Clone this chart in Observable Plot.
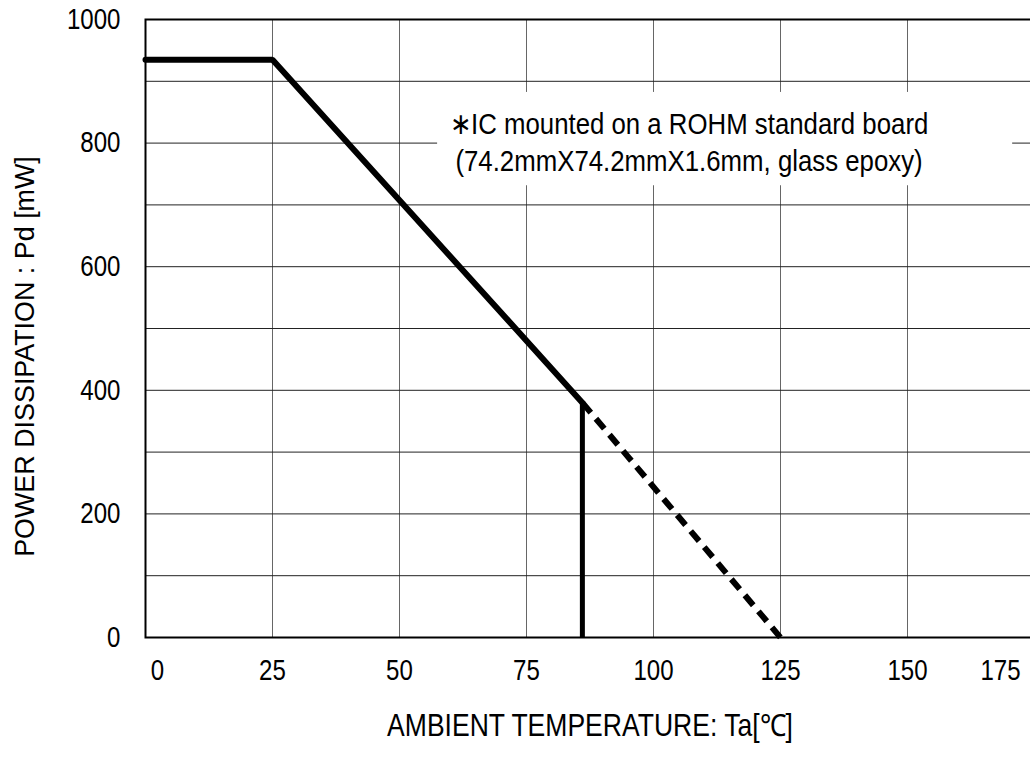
<!DOCTYPE html>
<html>
<head>
<meta charset="utf-8">
<script src="https://cdn.jsdelivr.net/npm/d3@7"></script>
<script src="https://cdn.jsdelivr.net/npm/@observablehq/plot@0.6"></script>
<style>
  html, body { margin: 0; padding: 0; background: white; overflow: hidden; }
</style>
</head>
<body>
<div id="chart"></div>
<script>
// ---- data ----
const deratingTemp  = [0, 25, 86];        // °C, solid derating curve
const deratingPower = [935, 935, 380];    // mW
const cutoffTemp  = [86, 86];             // vertical line at operating limit
const cutoffPower = [380, 0];
const extTemp  = [86, 125];               // dashed extrapolation
const extPower = [380, 0];

const xTickLabels = [0, 25, 50, 75, 100, 125, 150, 175];
const xGridValues = [25, 50, 75, 100, 125, 150];
const yTickLabels = [0, 200, 400, 600, 800, 1000];
const yGridValues = [100, 200, 300, 400, 500, 600, 700, 800, 900];

const noteLines = ["∗IC mounted on a ROHM standard board", "(74.2mmX74.2mmX1.6mm, glass epoxy)"];
const noteX = [107];          // annotation anchor (°C)
const noteY = [804];          // annotation anchor (mW)
const noteBoxX = [57.5, 170.7];
const noteBoxY = [731, 882];

const xTitle = "AMBIENT TEMPERATURE: Ta[℃]";
const yTitle = "POWER DISSIPATION : Pd [mW]";

const zip = (xs, ys) => xs.map((x, i) => ({x, y: ys[i]}));
const FONT = "'Liberation Sans', Arial, sans-serif";

const tickOpts = {tickSize: 0, tickPadding: 22, fontSize: 29, fontFamily: FONT, tickFormat: d => String(d)};

const chart = Plot.plot({
  width: 1030,
  height: 760,
  marginLeft: 145,
  marginRight: -4,
  marginTop: 19,
  marginBottom: 123,
  style: {background: "white", fontFamily: FONT, fontSize: "26px", color: "black"},
  x: {domain: [0, 175], axis: null},
  y: {domain: [0, 1000], axis: null},
  marks: [
    Plot.gridX(xGridValues, {stroke: "#666", strokeOpacity: 1, strokeWidth: 1}),
    Plot.gridY(yGridValues, {stroke: "#222", strokeOpacity: 1, strokeWidth: 1}),
    Plot.rect([{x1: noteBoxX[0], x2: noteBoxX[1], y1: noteBoxY[0], y2: noteBoxY[1]}],
      {x1: "x1", x2: "x2", y1: "y1", y2: "y2", fill: "white"}),
    Plot.text([noteLines.join("\n")], {
      x: () => noteX[0], y: () => noteY[0], text: d => d,
      fontSize: 30, fontFamily: FONT, lineHeight: 1.23, textAnchor: "middle", fill: "black"
    }),
    Plot.line(zip(deratingTemp, deratingPower), {x: "x", y: "y", stroke: "black", strokeWidth: 6, strokeLinecap: "round", strokeLinejoin: "miter"}),
    Plot.line(zip(cutoffTemp, cutoffPower), {x: "x", y: "y", stroke: "black", strokeWidth: 5, strokeLinecap: "butt"}),
    Plot.line(zip(extTemp, extPower), {x: "x", y: "y", stroke: "black", strokeWidth: 6, strokeDasharray: "13,8", strokeLinecap: "butt"}),
    Plot.frame({stroke: "black", strokeWidth: 2}),
    Plot.axisX(xTickLabels.slice(1, 7), tickOpts),
    Plot.axisX([xTickLabels[0]], {...tickOpts, dx: 12}),
    Plot.axisX([xTickLabels[7]], {...tickOpts, dx: -34}),
    Plot.axisY(yTickLabels, {tickSize: 0, tickPadding: 25, fontSize: 29, fontFamily: FONT, tickFormat: d => String(d)}),
    Plot.text([xTitle], {frameAnchor: "bottom", dy: 89, lineAnchor: "middle", textAnchor: "middle", fontSize: 30.5, fontFamily: FONT, fill: "black"}),
    Plot.text([yTitle], {frameAnchor: "left", dx: -120, dy: 28, rotate: -90, lineAnchor: "middle", textAnchor: "middle", fontSize: 28, fontFamily: FONT, fill: "black"})
  ]
});

// condensed look of the original typeface: squeeze each text horizontally around its anchor,
// choosing the factor from the font size of its group
const squeezeBySize = {"29": 0.83, "30": 0.86, "30.5": 0.87, "28": 0.96};
d3.select(chart).selectAll("text").each(function() {
  const holder = this.closest("[font-size]");
  const size = holder ? holder.getAttribute("font-size") : null;
  const k = squeezeBySize[size];
  if (!k) return;
  const t = this.getAttribute("transform");
  if (t) {
    this.setAttribute("transform", `${t} scale(${k},1)`);
  } else {
    const x = +(this.getAttribute("x") || 0);
    this.setAttribute("transform", `translate(${x},0) scale(${k},1) translate(${-x},0)`);
  }
});
document.getElementById("chart").appendChild(chart);
</script>
</body>
</html>
